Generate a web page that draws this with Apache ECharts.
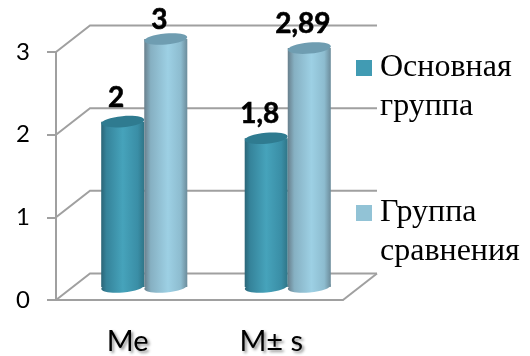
<!DOCTYPE html>
<html>
<head>
<meta charset="utf-8">
<style>html,body{margin:0;padding:0;background:#fff}#chart{width:530px;height:356px}</style>
<script src="https://cdn.jsdelivr.net/npm/echarts@6/dist/echarts.min.js"></script>
</head>
<body>
<div id="chart"></div>
<script>
// Chart values
const categories = ['Me', 'M± s'];
const mainGroup = [2, 1.8];
const comparisonGroup = [3, 2.89];
const yTicks = [0, 1, 2, 3];
const seriesNames = ['Основная группа', 'Группа сравнения'];

// Pseudo-3D look: how far the back wall sits behind the axis plane
const DEPTH_X = 34, DEPTH_Y = 26.5;
const BAR_SHIFT_X = 16.5, BAR_SHIFT_Y = 13;
const WALL = '#a0a0a0';

const palettes = [
  { legend: '#419bb3', top: '#2f7b90',
    body: [[0, '#2b6577'], [0.12, '#35839a'], [0.5, '#46a3bb'], [0.85, '#3a8ea6'], [1, '#2f7587']] },
  { legend: '#92c3d6', top: '#6f9db1',
    body: [[0, '#687f8c'], [0.15, '#86b0c2'], [0.55, '#9dd0e4'], [0.85, '#8dbccf'], [1, '#6c8c9b']] }
];

const decimalComma = v => String(v).replace('.', ',');

// Shaded cylinder standing on the floor, with its value above it
function cylinder(seriesPos) {
  const palette = palettes[seriesPos];
  return function (params, api) {
    const cat = api.value(0), val = api.value(1);
    const width = api.size([1, 0])[0] * 0.3;
    const foot = api.coord([cat, 0]);
    const head = api.coord([cat, val]);
    const groupMid = foot[0] + BAR_SHIFT_X;
    const cx = groupMid + (seriesPos === 0 ? -width / 2 : width / 2);
    const yBase = foot[1] - BAR_SHIFT_Y, yTop = head[1] - BAR_SHIFT_Y;
    const fill = new echarts.graphic.LinearGradient(0, 0, 1, 0,
      palette.body.map(s => ({ offset: s[0], color: s[1] })));
    const rx = width / 2, ry = 5.5, tilt = 0.09;
    return {
      type: 'group',
      children: [
        { type: 'ellipse', shape: { cx: cx, cy: yBase, rx: rx, ry: ry },
          rotation: tilt, originX: cx, originY: yBase, style: { fill: fill } },
        { type: 'rect', shape: { x: cx - rx, y: yTop, width: width, height: yBase - yTop },
          style: { fill: fill } },
        { type: 'ellipse', shape: { cx: cx, cy: yTop, rx: rx, ry: ry },
          rotation: tilt, originX: cx, originY: yTop, style: { fill: palette.top } },
        { type: 'text', z2: 50,
          style: {
            text: decimalComma(val), x: cx - 6.5, y: Math.max(20, yTop - 24),
            fill: '#000', stroke: '#000', lineWidth: 0.6,
            align: 'center', verticalAlign: 'middle',
            font: 'bold 28px Lato, "Open Sans", sans-serif'
          } }
      ]
    };
  };
}

// Side wall, back wall and floor lines drawn for each value tick
function wallLine(params, api) {
  const val = api.value(0);
  const rect = params.coordSys;
  const y = api.coord([0, val])[1];
  const x0 = rect.x, x1 = rect.x + rect.width;
  const style = { stroke: WALL, lineWidth: 2, fill: 'none' };
  const children = [{
    type: 'polyline',
    shape: { points: [[x0, y], [x0 + DEPTH_X, y - DEPTH_Y], [x1 + DEPTH_X, y - DEPTH_Y]] },
    style: style
  }];
  if (val === 0) {
    children.push({
      type: 'polyline',
      shape: { points: [[x1, y], [x1 + DEPTH_X, y - DEPTH_Y]] },
      style: style
    });
  }
  return { type: 'group', children: children };
}

const chart = echarts.init(document.getElementById('chart'), null, { renderer: 'canvas' });
chart.setOption({
  animation: false,
  backgroundColor: '#fff',
  grid: { left: 56, top: 52, width: 287, height: 248 },
  legend: {
    orient: 'vertical',
    left: 351,
    top: 4.5,
    itemWidth: 16,
    itemHeight: 16,
    itemGap: 28,
    selectedMode: false,
    icon: 'rect',
    formatter: name => ' \n' + name.replace(' ', '\n'),
    textStyle: {
      fontFamily: '"Liberation Serif", serif',
      fontSize: 32,
      lineHeight: 39,
      color: '#000',
      padding: [0, 0, 0, 3]
    },
    data: seriesNames.map((n, i) => ({ name: n, itemStyle: { color: palettes[i].legend } }))
  },
  xAxis: {
    type: 'category',
    data: categories,
    axisLine: { lineStyle: { color: WALL, width: 2 } },
    axisTick: { length: 10, lineStyle: { color: WALL, width: 2 } },
    axisLabel: {
      margin: 27,
      interval: 0,
      fontFamily: 'Lato, "Open Sans", sans-serif',
      fontSize: 29,
      color: '#000',
      textShadowColor: 'rgba(0,0,0,0.45)',
      textShadowBlur: 3,
      textShadowOffsetX: 2,
      textShadowOffsetY: 2
    }
  },
  yAxis: {
    type: 'value',
    min: 0,
    max: 3,
    interval: 1,
    splitLine: { show: false },
    axisLine: { show: true, lineStyle: { color: WALL, width: 2 } },
    axisTick: { show: true, length: 9, lineStyle: { color: WALL, width: 2 } },
    axisLabel: {
      margin: 26,
      fontFamily: 'Lato, "Open Sans", sans-serif',
      fontSize: 24,
      color: '#000'
    }
  },
  series: [
    {
      type: 'custom', name: 'walls', silent: true, z: 1,
      data: yTicks.map(v => [v]),
      encode: { y: 0 },
      renderItem: wallLine
    },
    {
      type: 'custom', name: seriesNames[0], z: 3,
      itemStyle: { color: palettes[0].legend },
      data: mainGroup.map((v, i) => [i, v]),
      encode: { x: 0, y: 1 },
      renderItem: cylinder(0)
    },
    {
      type: 'custom', name: seriesNames[1], z: 4,
      itemStyle: { color: palettes[1].legend },
      data: comparisonGroup.map((v, i) => [i, v]),
      encode: { x: 0, y: 1 },
      renderItem: cylinder(1)
    }
  ]
});
</script>
</body>
</html>
